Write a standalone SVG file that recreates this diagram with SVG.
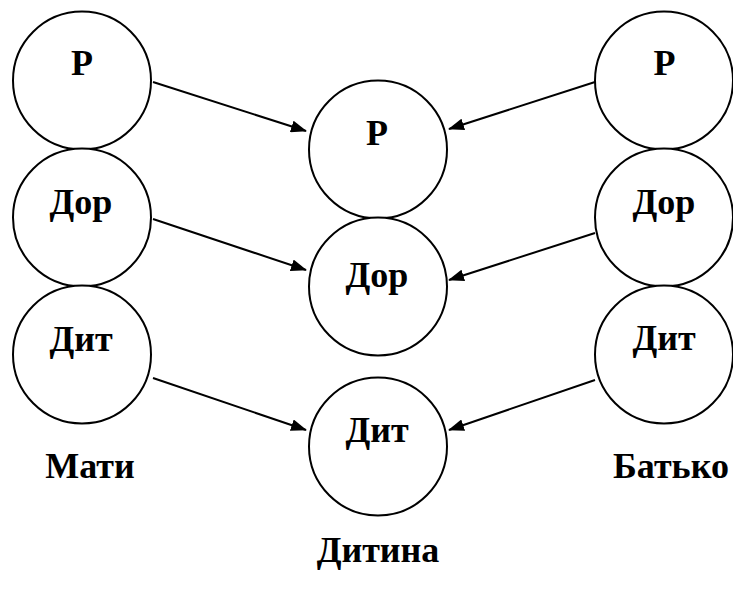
<svg xmlns="http://www.w3.org/2000/svg" width="733" height="592" viewBox="0 0 733 592">
<style>
.n{fill:#fff;stroke:#000;stroke-width:2}
.t{font-family:"Liberation Serif","Times New Roman",serif;font-weight:bold;font-size:36px;text-anchor:middle;fill:#000}
.c{stroke:#000;stroke-width:2;fill:none;marker-end:url(#ah)}
</style>
<defs>
<marker id="ah" markerWidth="16" markerHeight="12" refX="15" refY="6" orient="auto" markerUnits="userSpaceOnUse">
<path d="M0,0 L16,6 L0,12 Z" fill="#000"/>
</marker>
</defs>
<rect width="733" height="592" fill="#fff"/>
<g id="connectors">
<line class="c" x1="153" y1="82" x2="306" y2="131"/>
<line class="c" x1="153" y1="219" x2="306" y2="270"/>
<line class="c" x1="153" y1="378" x2="306" y2="430"/>
<line class="c" x1="595" y1="82" x2="449" y2="129"/>
<line class="c" x1="595" y1="233" x2="449" y2="280"/>
<line class="c" x1="595" y1="380" x2="449" y2="430"/>
</g>
<g id="m-r"><circle class="n" cx="82" cy="80.5" r="69"/><text class="t" x="82" y="75">Р</text></g>
<g id="m-dor"><circle class="n" cx="82" cy="217.5" r="69"/><text class="t" x="81" y="214">Дор</text></g>
<g id="m-dyt"><circle class="n" cx="82" cy="354.5" r="69"/><text class="t" x="81" y="351">Дит</text></g>
<g id="c-r"><circle class="n" cx="378" cy="149.5" r="69"/><text class="t" x="377" y="145">Р</text></g>
<g id="c-dor"><circle class="n" cx="378" cy="286.5" r="69"/><text class="t" x="377" y="287">Дор</text></g>
<g id="c-dyt"><circle class="n" cx="378" cy="446.5" r="69"/><text class="t" x="377" y="442">Дит</text></g>
<g id="f-r"><circle class="n" cx="664" cy="80.5" r="69"/><text class="t" x="664.5" y="75">Р</text></g>
<g id="f-dor"><circle class="n" cx="664" cy="217.5" r="69"/><text class="t" x="664" y="214">Дор</text></g>
<g id="f-dyt"><circle class="n" cx="664" cy="354.5" r="69"/><text class="t" x="664" y="350">Дит</text></g>
<g id="labels">
<text class="t" x="90" y="478">Мати</text>
<text class="t" x="671" y="478">Батько</text>
<text class="t" x="378" y="562">Дитина</text>
</g>
</svg>
